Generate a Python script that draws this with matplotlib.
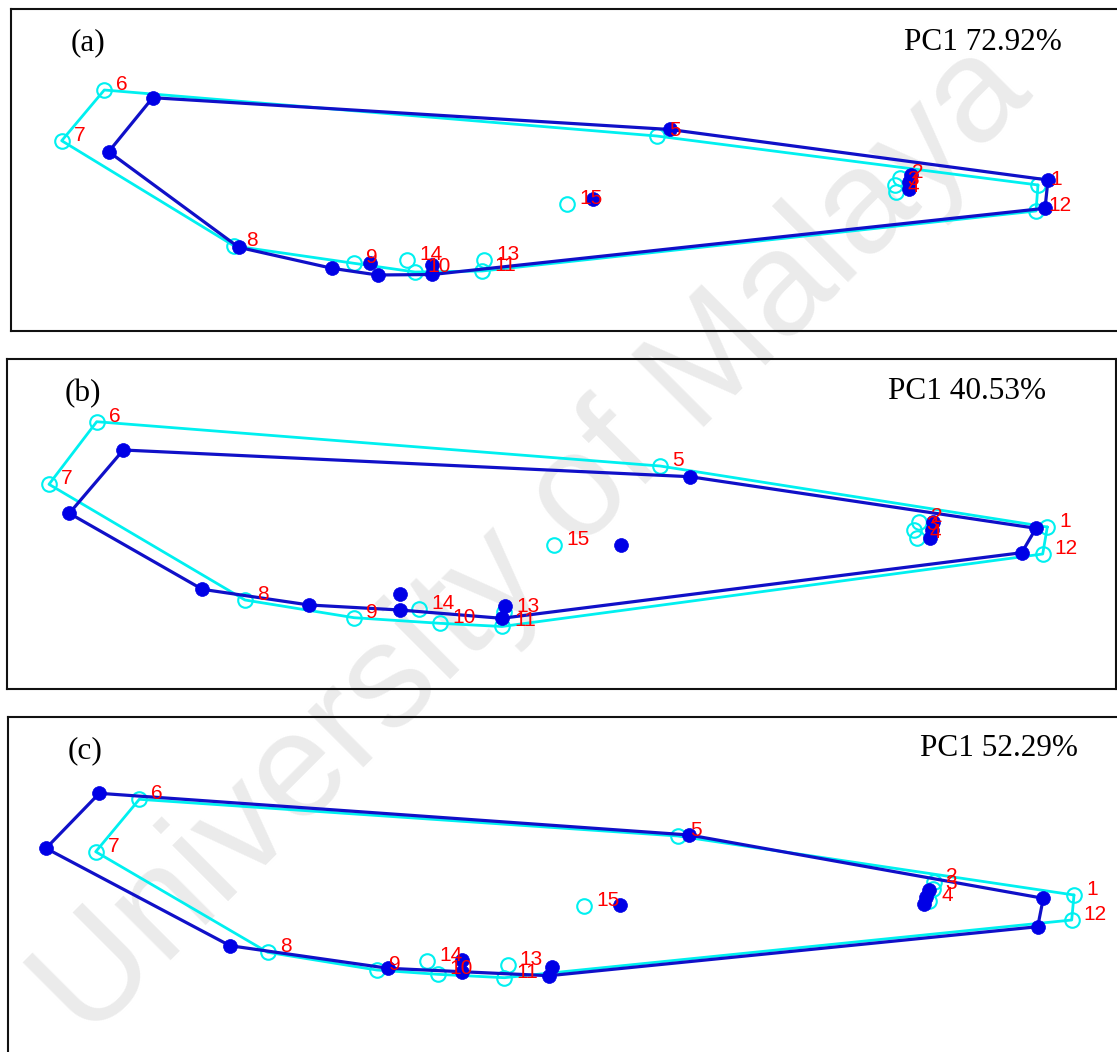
import matplotlib
matplotlib.use("Agg")
import matplotlib.pyplot as plt

# ---------------- data (landmarks 1..15, image-space coordinates) ----------------
landmarks = [str(i) for i in range(1, 16)]
outline = [1, 5, 6, 7, 8, 9, 10, 11, 12, 1]

# Panel (a)
a_filled_x = [1048, 911, 909, 909, 670, 152.7, 108.7, 238.7, 332, 377.7, 432.3, 1045, 432.3, 370, 593.3]
a_filled_y = [180, 175, 182, 189, 129.5, 97.7, 151.7, 247.3, 268.3, 275, 274.5, 208.3, 265, 263, 199.3]
a_open_x = [1038, 900, 895, 896, 656.7, 104.3, 61.7, 234.3, 354, 415, 482.3, 1036, 484.3, 407.3, 567.3]
a_open_y = [185, 178, 185, 192, 136, 90, 140.7, 246, 263.3, 272, 271, 211, 260, 260, 204]

# Panel (b)
b_filled_x = [1036, 933.3, 931.7, 930, 690, 123.3, 69.3, 202.3, 309.3, 400, 501.7, 1021.7, 505, 400, 620.7]
b_filled_y = [528.3, 521.7, 530, 538.3, 476.7, 450, 513.3, 589.3, 605, 610, 618.3, 552.7, 606, 594.3, 545]
b_open_x = [1047.3, 919, 914, 917, 660, 96.7, 49, 245, 354, 440, 502, 1042.7, 504, 419.3, 554.3]
b_open_y = [527, 522, 530, 538, 466, 421.7, 484.3, 600, 617.7, 623.3, 626.5, 554, 612, 609.3, 545]

# Panel (c)
c_filled_x = [1043.3, 929, 926, 924, 689.3, 99.3, 46, 230, 388.3, 461.7, 549, 1037.7, 552.3, 461.7, 620]
c_filled_y = [898.3, 890, 897, 904, 835, 793.3, 848.3, 945.7, 968.3, 971.7, 975.7, 926.7, 966.7, 960, 905]
c_open_x = [1074, 934, 933, 929, 677.7, 139.3, 95.7, 267.7, 376.7, 437.7, 504.3, 1071.7, 507.7, 427.3, 584]
c_open_y = [895, 882, 889, 901, 836, 799.3, 851.7, 952.3, 970, 974.3, 977.7, 920, 965, 961, 905.7]

panel_tags = ["(a)", "(b)", "(c)"]
pc1_texts = ["PC1 72.92%", "PC1 40.53%", "PC1 52.29%"]

# ---------------- layout ----------------
W, H = 1117, 1052
fig = plt.figure(figsize=(W / 100, H / 100), dpi=100)
fig.patch.set_facecolor("white")

# panel frames in pixels: left, right, top, bottom
frames = [(11, 1125, 9, 331), (7, 1116, 359, 689), (8, 1125, 717, 1062)]
tag_pos = [(71, 50), (65, 401.5), (68, 758)]
pc_pos = [(904, 50), (888, 399.5), (920, 756.5)]

panels = [
    (a_filled_x, a_filled_y, a_open_x, a_open_y),
    (b_filled_x, b_filled_y, b_open_x, b_open_y),
    (c_filled_x, c_filled_y, c_open_x, c_open_y),
]

dark_marker = "#0000E6"
dark_line = "#1010C8"
cyan = "#00F0F0"

# watermark (behind the panels)
fig.text(534 / W, 1 - 542 / H, "University of Malaya", rotation=45,
         rotation_mode="anchor", ha="center", va="center",
         fontsize=107, color="#EBEBEB", family="Liberation Sans", zorder=-5)

for k, (fx, fy, ox, oy) in enumerate(panels):
    l, r, t, b = frames[k]
    ax = fig.add_axes([l / W, 1 - b / H, (r - l) / W, (b - t) / H])
    ax.set_facecolor("none")
    ax.set_xlim(l, r)
    ax.set_ylim(b, t)
    ax.set_xticks([])
    ax.set_yticks([])
    for s in ax.spines.values():
        s.set_linewidth(1.5)
        s.set_color("#111111")

    idx = [i - 1 for i in outline]
    # open (cyan) configuration
    ax.plot([ox[i] for i in idx], [oy[i] for i in idx], color=cyan, lw=2.0,
            zorder=2, solid_capstyle="round")
    ax.plot(ox, oy, "o", ms=10.5, mfc="none", mec=cyan, mew=1.5,
            ls="none", zorder=3)
    # filled (blue) configuration
    ax.plot([fx[i] for i in idx], [fy[i] for i in idx], color=dark_line, lw=2.3,
            zorder=4, solid_capstyle="round")
    ax.plot(fx, fy, "o", ms=10, mfc=dark_marker, mec=dark_marker, mew=0.5,
            ls="none", zorder=5)
    # landmark labels
    for i, lab in enumerate(landmarks):
        ax.text(ox[i] + 12, oy[i], lab, color="#FF0000", fontsize=15,
                family="Liberation Sans", ha="left", va="baseline", zorder=6)

    ax.text(tag_pos[k][0], tag_pos[k][1], panel_tags[k], fontsize=22.5,
            family="Liberation Serif", ha="left", va="baseline", zorder=7)
    ax.text(pc_pos[k][0], pc_pos[k][1], pc1_texts[k], fontsize=22.5,
            family="Liberation Serif", ha="left", va="baseline", zorder=7)

fig.savefig("out.png", dpi=100, facecolor="white")
